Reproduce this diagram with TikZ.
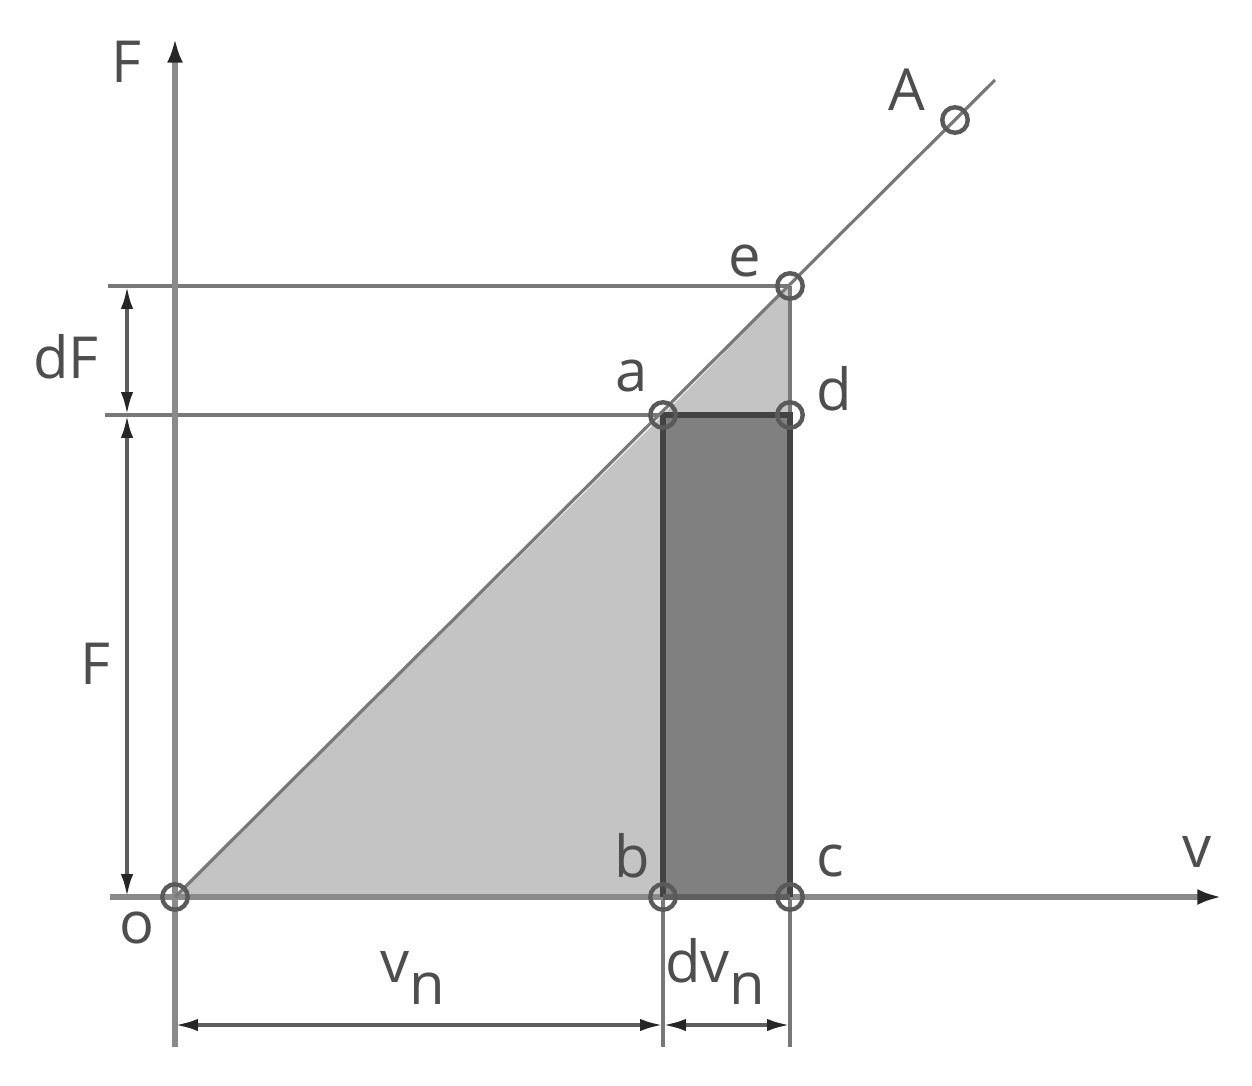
\documentclass[tikz,border=0pt]{standalone}
\usepackage{fontspec}
\setmainfont{Open Sans}
\usetikzlibrary{arrows.meta}
\definecolor{txt}{HTML}{4E4E4E}
\definecolor{axisc}{HTML}{8A8A8A}
\definecolor{linec}{HTML}{787878}
\definecolor{dimc}{HTML}{5E5E5E}
\definecolor{lightf}{HTML}{C4C4C4}
\definecolor{darkf}{HTML}{808080}
\definecolor{edgec}{HTML}{434343}
\definecolor{markc}{HTML}{5A5A5A}
\tikzset{
  lbl/.style={text=txt, font=\fontsize{33}{38}\selectfont, inner sep=0pt, anchor=center},
  axisline/.style={draw=axisc, line width=3.3pt, -{Latex[length=14pt,width=9pt,color=black!85]}},
  extline/.style={draw=linec, line width=2.6pt},
  diagline/.style={draw=linec, line width=1.8pt},
  dimline/.style={draw=dimc, line width=2.1pt, {Latex[length=13pt,width=7pt,color=black!85]}-{Latex[length=13pt,width=7pt,color=black!85]}},
  pointmark/.style={circle, draw=markc, line width=2.5pt, minimum size=14.5pt, inner sep=0pt, fill=none},
}
\begin{document}
\begin{tikzpicture}[x=0.02cm,y=-0.02cm]
\useasboundingbox (0,0) rectangle (1252,1086);
% key points
\coordinate (o) at (175,897);
\coordinate (b) at (663,897);
\coordinate (c) at (790,897);
\coordinate (a) at (663,415);
\coordinate (d) at (790,415);
\coordinate (e) at (790,286);
\coordinate (A) at (955,120);
\coordinate (Aend) at (995,80);
\coordinate (Ftop) at (175,38);
\coordinate (Fbot) at (175,1047);
\coordinate (vleft) at (110,897);
\coordinate (vright) at (1222,897);
\coordinate (eL) at (108,286);
\coordinate (aL) at (105,415);
\coordinate (bB) at (663,1047);
\coordinate (cB) at (790,1047);
\coordinate (dim1) at (127,286);
\coordinate (dim2) at (127,415);
\coordinate (dim3) at (127,897);
\coordinate (h1) at (175,1025);
\coordinate (h2) at (663,1025);
\coordinate (h3) at (790,1025);
% fills
\fill[lightf] (o) -- (b) -- (a) -- cycle;
\fill[lightf] (a) -- (d) -- (e) -- cycle;
\fill[darkf] (a) -- (b) -- (c) -- (d) -- cycle;
% extension lines
\draw[extline] (eL) -- (e);
\draw[extline] (aL) -- (a);
\draw[extline] (e) -- (cB);
\draw[extline] (a) -- (bB);
% axes
\draw[axisline] (Fbot) -- (Ftop);
\draw[axisline] (vleft) -- (vright);
% rectangle border
\draw[draw=edgec, line width=3pt, line join=miter] (b) -- (a) -- (d) -- (c);
\draw[draw=edgec!85, line width=3pt] (b) -- (c);
% diagonal
\draw[diagline] (o) -- (Aend);
% dimension lines
\draw[dimline] (dim1) -- (dim2);
\draw[dimline] (dim2) -- (dim3);
\draw[dimline] (h1) -- (h2);
\draw[dimline] (h2) -- (h3);
% point markers
\foreach \p in {o,b,c,a,d,e,A} \node[pointmark] (m\p) at (\p) {};
% labels
\node[lbl] (lF) at (126,62) {F};
\node[lbl] (lv) at (1197,852) {v};
\node[lbl] (lo) at (137,928) {o};
\node[lbl] (lA) at (907,90) {A};
\node[lbl] (le) at (745,261) {e};
\node[lbl] (la) at (632,376) {a};
\node[lbl] (ld) at (834,389) {d};
\node[lbl] (lb) at (632,856) {b};
\node[lbl] (lc) at (830,861) {c};
\node[lbl] (ldF) at (66,357) {dF};
\node[lbl] (lFm) at (95,664) {F};
\node[lbl, anchor=base west] (lvn) at (380,982) {v\raisebox{-13pt}{n}};
\node[lbl, anchor=base west] (ldvn) at (665,982) {dv\raisebox{-13pt}{n}};
\end{tikzpicture}
\end{document}
